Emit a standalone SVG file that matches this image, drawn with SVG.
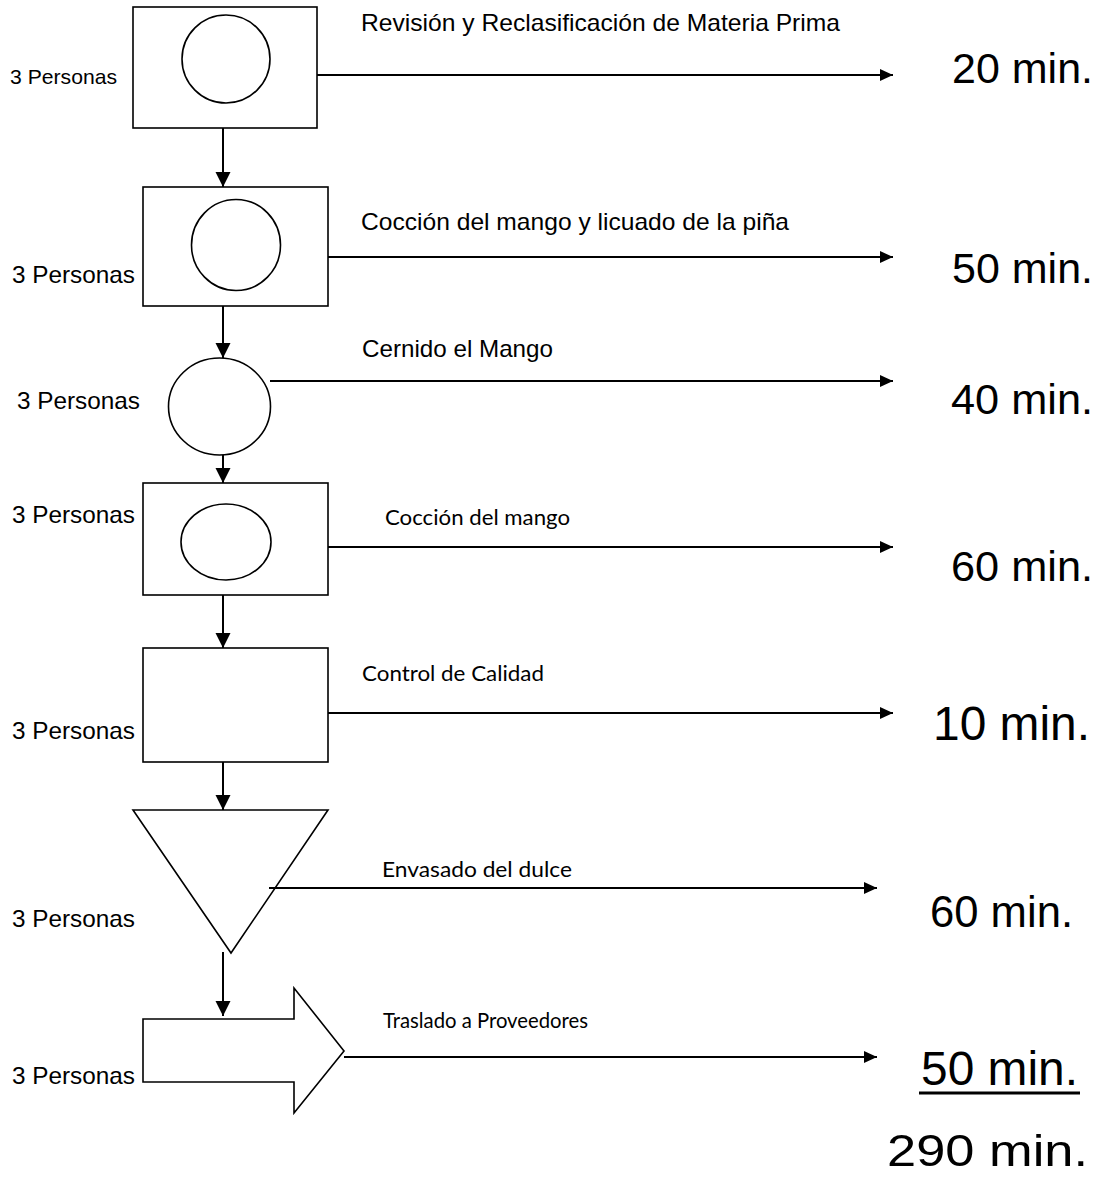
<svg xmlns="http://www.w3.org/2000/svg" width="1108" height="1177" viewBox="0 0 1108 1177">
<style>
.shape{fill:#fff;stroke:#000;stroke-width:1.6}
.inner{fill:none;stroke:#000;stroke-width:1.6}
.conn{fill:none;stroke:#000;stroke-width:2}
.ar{font-family:"Liberation Sans",Arial,sans-serif;fill:#000}
.ca{font-family:Lato,"Open Sans",sans-serif;fill:#000}
.big{font-family:"Liberation Sans",Arial,sans-serif;fill:#000}
</style>
<defs>
<marker id="ahv" markerUnits="userSpaceOnUse" markerWidth="16" markerHeight="16" refX="15" refY="7.5" orient="auto">
<path d="M0,0 L15,7.5 L0,15 z" fill="#000"/>
</marker>
<marker id="ahh" markerUnits="userSpaceOnUse" markerWidth="14" markerHeight="13" refX="13" refY="6" orient="auto">
<path d="M0,0 L13,6 L0,12 z" fill="#000"/>
</marker>
</defs>
<rect width="1108" height="1177" fill="#fff"/>

<g id="step1">
<rect class="shape" x="133" y="7" width="184" height="121"/>
<circle class="inner" cx="226" cy="59" r="44"/>
<text class="ar" x="10" y="84" font-size="21" textLength="107" lengthAdjust="spacingAndGlyphs">3 Personas</text>
<text class="ar" x="361" y="31" font-size="24" textLength="479" lengthAdjust="spacingAndGlyphs">Revisión y Reclasificación de Materia Prima</text>
<text class="big" x="952" y="83" font-size="43" textLength="141" lengthAdjust="spacingAndGlyphs">20 min.</text>
</g>

<g id="step2">
<rect class="shape" x="143" y="187" width="185" height="119"/>
<ellipse class="inner" cx="236" cy="245" rx="44.5" ry="45.5"/>
<text class="ar" x="12" y="283" font-size="24" textLength="123" lengthAdjust="spacingAndGlyphs">3 Personas</text>
<text class="ar" x="361" y="230" font-size="24" textLength="428" lengthAdjust="spacingAndGlyphs">Cocción del mango y licuado de la piña</text>
<text class="big" x="952" y="283" font-size="43" textLength="141" lengthAdjust="spacingAndGlyphs">50 min.</text>
</g>

<g id="step3">
<ellipse class="shape" cx="219.5" cy="406.5" rx="51" ry="48.5"/>
<text class="ar" x="17" y="409" font-size="24" textLength="123" lengthAdjust="spacingAndGlyphs">3 Personas</text>
<text class="ar" x="362" y="357" font-size="24" textLength="191" lengthAdjust="spacingAndGlyphs">Cernido el Mango</text>
<text class="big" x="951" y="414" font-size="43" textLength="142" lengthAdjust="spacingAndGlyphs">40 min.</text>
</g>

<g id="step4">
<rect class="shape" x="143" y="483" width="185" height="112"/>
<ellipse class="inner" cx="226" cy="542" rx="45" ry="38"/>
<text class="ar" x="12" y="523" font-size="24" textLength="123" lengthAdjust="spacingAndGlyphs">3 Personas</text>
<text class="ca" x="385" y="525" font-size="21" textLength="185" lengthAdjust="spacingAndGlyphs">Cocción del mango</text>
<text class="big" x="951" y="581" font-size="43" textLength="142" lengthAdjust="spacingAndGlyphs">60 min.</text>
</g>

<g id="step5">
<rect class="shape" x="143" y="648" width="185" height="114"/>
<text class="ar" x="12" y="739" font-size="24" textLength="123" lengthAdjust="spacingAndGlyphs">3 Personas</text>
<text class="ca" x="362" y="681" font-size="21" textLength="182" lengthAdjust="spacingAndGlyphs">Control de Calidad</text>
<text class="big" x="933" y="740" font-size="48" textLength="157" lengthAdjust="spacingAndGlyphs">10 min.</text>
</g>

<g id="step6">
<polygon class="shape" points="133,810 328,810 231,953"/>
<text class="ar" x="12" y="927" font-size="24" textLength="123" lengthAdjust="spacingAndGlyphs">3 Personas</text>
<text class="ca" x="382" y="877" font-size="21" textLength="190" lengthAdjust="spacingAndGlyphs">Envasado del dulce</text>
<text class="big" x="930" y="927" font-size="44" textLength="143" lengthAdjust="spacingAndGlyphs">60 min.</text>
</g>

<g id="step7">
<polygon class="shape" points="143,1019 294,1019 294,988 344,1051 294,1113 294,1082 143,1082"/>
<text class="ar" x="12" y="1084" font-size="24" textLength="123" lengthAdjust="spacingAndGlyphs">3 Personas</text>
<text class="ca" x="383" y="1028" font-size="21" textLength="205" lengthAdjust="spacingAndGlyphs">Traslado a Proveedores</text>
<text class="big" x="921" y="1085" font-size="48" textLength="157" lengthAdjust="spacingAndGlyphs">50 min.</text>
<line x1="919" y1="1093" x2="1080" y2="1093" stroke="#000" stroke-width="3"/>
</g>

<g id="total">
<text class="big" x="887" y="1166" font-size="45" textLength="201" lengthAdjust="spacingAndGlyphs">290 min.</text>
</g>

<g id="connectors">
<line class="conn" x1="223" y1="128" x2="223" y2="187" marker-end="url(#ahv)"/>
<line class="conn" x1="223" y1="306" x2="223" y2="358" marker-end="url(#ahv)"/>
<line class="conn" x1="223" y1="455" x2="223" y2="483" marker-end="url(#ahv)"/>
<line class="conn" x1="223" y1="595" x2="223" y2="648" marker-end="url(#ahv)"/>
<line class="conn" x1="223" y1="762" x2="223" y2="810" marker-end="url(#ahv)"/>
<line class="conn" x1="223" y1="952" x2="223" y2="1016" marker-end="url(#ahv)"/>
<line class="conn" x1="317" y1="75" x2="893" y2="75" marker-end="url(#ahh)"/>
<line class="conn" x1="328" y1="257" x2="893" y2="257" marker-end="url(#ahh)"/>
<line class="conn" x1="270" y1="381" x2="893" y2="381" marker-end="url(#ahh)"/>
<line class="conn" x1="328" y1="547" x2="893" y2="547" marker-end="url(#ahh)"/>
<line class="conn" x1="328" y1="713" x2="893" y2="713" marker-end="url(#ahh)"/>
<line class="conn" x1="269" y1="888" x2="877" y2="888" marker-end="url(#ahh)"/>
<line class="conn" x1="344" y1="1057" x2="877" y2="1057" marker-end="url(#ahh)"/>
</g>
</svg>
